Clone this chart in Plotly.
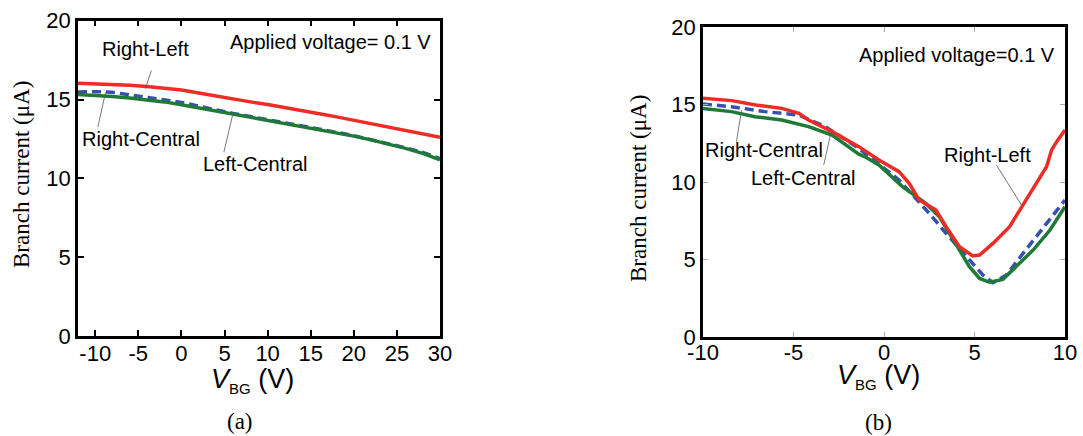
import plotly.graph_objects as go

# ---------- Panel (a) data ----------
vbg_a = [-12, -10, -8, -6, -4, -2, 0, 2, 4, 6, 8, 10, 12, 14, 16, 18, 20, 22, 24, 26, 28, 30]
right_left_a = [16.03, 16.0, 15.98, 15.9, 15.82, 15.72, 15.6, 15.42, 15.22, 15.03, 14.85, 14.68,
                14.5, 14.3, 14.1, 13.9, 13.68, 13.47, 13.25, 13.05, 12.82, 12.6]
right_central_a = [15.48, 15.5, 15.46, 15.3, 15.15, 15.0, 14.82, 14.58, 14.33, 14.12, 13.92, 13.73,
                   13.53, 13.33, 13.12, 12.92, 12.7, 12.46, 12.21, 11.94, 11.64, 11.26]
left_central_a = [15.32, 15.27, 15.19, 15.1, 15.0, 14.85, 14.67, 14.47, 14.27, 14.08, 13.88, 13.7,
                  13.5, 13.3, 13.1, 12.9, 12.68, 12.44, 12.18, 11.9, 11.58, 11.18]

# ---------- Panel (b) data ----------
vbg_b_rl = [-10, -9, -8.4, -7.1, -5.65, -4.7, -4.17, -2.87, -1.39, -0.28, 0.83, 1.39, 1.94, 2.87,
            3.43, 4.17, 4.91, 5.28, 6.02, 6.94, 7.87, 8.98, 9.26, 9.54, 10]
right_left_b = [15.4, 15.3, 15.25, 14.97, 14.75, 14.43, 14.0, 13.25, 12.28, 11.42, 10.67, 9.92, 8.84, 8.19,
                7.12, 5.83, 5.23, 5.29, 6.04, 7.12, 8.84, 10.99, 12.06, 12.6, 13.35]
vbg_b_rc = [-10, -8.43, -6.57, -4.72, -3.24, -1.94, -1.39, 0.83, 2.5, 3.43, 4.54, 5.46, 6.02, 6.76,
            7.69, 8.98, 10]
right_central_b = [15.03, 14.86, 14.54, 14.32, 13.57, 12.6, 12.17, 10.13, 7.98, 6.69, 5.18, 4.0, 3.5, 4.0,
                   5.4, 7.34, 8.84]
vbg_b_lc = [-10, -8.43, -7.13, -5.65, -4.17, -2.87, -1.39, -1.0, -0.28, 0.46, 1.02, 2.31, 3.06, 3.61,
            4.17, 4.72, 5.28, 5.83, 6.57, 7.31, 8.24, 9.17, 10]
left_central_b = [14.75, 14.54, 14.21, 14.0, 13.57, 13.03, 11.8, 11.6, 11.1, 10.34, 9.7, 8.62, 7.76, 6.69,
                  5.61, 4.54, 3.78, 3.53, 3.72, 4.54, 5.61, 6.9, 8.41]

xticks_a = [-10, -5, 0, 5, 10, 15, 20, 25, 30]
xticks_b = [-10, -5, 0, 5, 10]
yticks = [0, 5, 10, 15, 20]

RED = "#EE2B25"
BLUE = "#3550B0"
GREEN = "#1E7A36"
SANS = "Liberation Sans, Arial, sans-serif"
SERIF = "Liberation Serif, Times New Roman, serif"
W, H = 1083, 436

fig = go.Figure()

def add_curves(x_rl, rl, x_rc, rc, x_lc, lc, xa, ya):
    fig.add_trace(go.Scatter(x=x_rc, y=rc, mode="lines", xaxis=xa, yaxis=ya,
                             line=dict(color=BLUE, width=3.5, dash="9px,5px"), showlegend=False))
    fig.add_trace(go.Scatter(x=x_lc, y=lc, mode="lines", xaxis=xa, yaxis=ya,
                             line=dict(color=GREEN, width=3.5), showlegend=False))
    fig.add_trace(go.Scatter(x=x_rl, y=rl, mode="lines", xaxis=xa, yaxis=ya,
                             line=dict(color=RED, width=3.5), showlegend=False))

add_curves(vbg_a, right_left_a, vbg_a, right_central_a, vbg_a, left_central_a, "x", "y")
add_curves(vbg_b_rl, right_left_b, vbg_b_rc, right_central_b, vbg_b_lc, left_central_b, "x2", "y2")

def px2paper(px, py):
    return px / W, 1 - py / H

def labels(vals):
    return [str(v) for v in vals]

axis_common = dict(showline=True, linecolor="black", linewidth=2.5, mirror="allticks",
                   ticks="inside", showgrid=False, zeroline=False, automargin=False,
                   tickfont=dict(family=SANS, size=22, color="black"))

fig.update_layout(
    width=W, height=H, margin=dict(l=0, r=0, t=0, b=0),
    paper_bgcolor="white", plot_bgcolor="white",
    xaxis=dict(domain=[78 / W, 440 / W], range=[-12, 30], tickvals=xticks_a, ticktext=labels(xticks_a),
               ticklen=6, tickwidth=1.5, tickcolor="black", anchor="y", ticklabelstandoff=-4,
               **axis_common),
    yaxis=dict(domain=[1 - 336 / H, 1 - 20.7 / H], range=[0, 20], tickvals=yticks, ticktext=labels(yticks),
               ticklen=6, tickwidth=1.5, tickcolor="black", anchor="x", **axis_common),
    xaxis2=dict(domain=[703 / W, 1065 / W], range=[-10, 10], tickvals=xticks_b, ticktext=labels(xticks_b),
                ticklen=5, tickwidth=1, tickcolor="#AAAAAA", anchor="y2", ticklabelstandoff=-6,
                **axis_common),
    yaxis2=dict(domain=[1 - 337 / H, 1 - 27 / H], range=[0, 20], tickvals=yticks, ticktext=labels(yticks),
                ticklen=5, tickwidth=1, tickcolor="#AAAAAA", anchor="x2", **axis_common),
)

annotations = []
def txt(x, y, text, xref, yref, size=20, family=SANS, angle=0):
    annotations.append(dict(x=x, y=y, xref=xref, yref=yref, text=text, showarrow=False,
                            font=dict(family=family, size=size, color="black"),
                            xanchor="center", yanchor="middle", textangle=angle))

# panel (a) labels
txt(-4.21, 18.21, "Right-Left", "x", "y")
txt(-4.65, 12.51, "Right-Central", "x", "y")
txt(8.56, 10.93, "Left-Central", "x", "y")
txt(17.24, 18.63, "Applied voltage= 0.1 V", "x", "y")
# panel (b) labels
txt(5.72, 11.74, "Right-Left", "x2", "y2")
txt(-6.63, 12.06, "Right-Central", "x2", "y2")
txt(-4.46, 10.24, "Left-Central", "x2", "y2")
txt(4.06, 18.19, "Applied voltage=0.1 V", "x2", "y2")

xt = "<i>V</i><sub><span style='font-size:15px'>BG</span></sub> (V)"
px, py = px2paper(252, 380)
txt(px, py, xt, "paper", "paper", size=27)
px, py = px2paper(878, 376)
txt(px, py, xt, "paper", "paper", size=27)

yt = "Branch current (μA)"
px, py = px2paper(21, 175)
txt(px, py, yt, "paper", "paper", size=23, family=SERIF, angle=-90)
px, py = px2paper(638, 189)
txt(px, py, yt, "paper", "paper", size=23, family=SERIF, angle=-90)

px, py = px2paper(240, 421)
txt(px, py, "(a)", "paper", "paper", size=23, family=SERIF)
px, py = px2paper(878, 422)
txt(px, py, "(b)", "paper", "paper", size=23, family=SERIF)

fig.update_layout(annotations=annotations)

shapes = []
def leader(x0, y0, x1, y1, xref, yref):
    shapes.append(dict(type="line", x0=x0, y0=y0, x1=x1, y1=y1, xref=xref, yref=yref,
                       line=dict(color="#555555", width=0.8)))

leader(-3.49, 16.84, -4.19, 15.68, "x", "y")
leader(-8.8, 15.46, -9.7, 13.25, "x", "y")
leader(5.93, 13.99, 4.92, 11.66, "x", "y")
leader(6.21, 11.1, 7.63, 8.45, "x2", "y2")
leader(-7.87, 14.65, -8.15, 12.6, "x2", "y2")
leader(-2.96, 13.03, -3.33, 11.1, "x2", "y2")
fig.update_layout(shapes=shapes)

fig.write_html("out.html", config={"displayModeBar": False},
               post_script="document.body.style.margin='0px';")
